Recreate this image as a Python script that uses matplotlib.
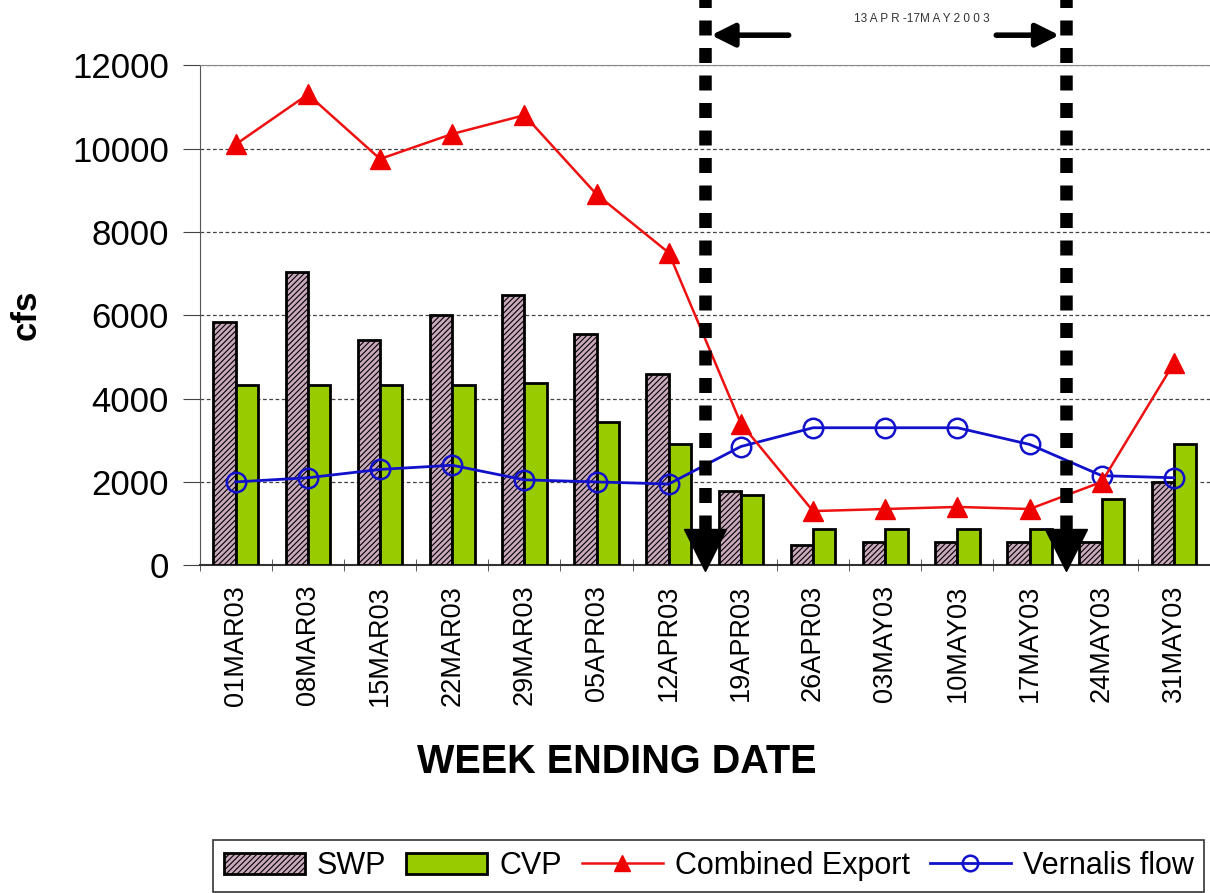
import numpy as np
import matplotlib
matplotlib.use("Agg")
import matplotlib.pyplot as plt
from matplotlib.transforms import blended_transform_factory

plt.rcParams['font.family'] = ['Liberation Sans', 'DejaVu Sans']
plt.rcParams['hatch.color'] = '#5a2a4a'
plt.rcParams['hatch.linewidth'] = 0.8

weeks = ["01MAR03", "08MAR03", "15MAR03", "22MAR03", "29MAR03", "05APR03", "12APR03",
         "19APR03", "26APR03", "03MAY03", "10MAY03", "17MAY03", "24MAY03", "31MAY03"]
swp = [5830, 7030, 5400, 6000, 6480, 5540, 4600, 1780, 480, 550, 550, 550, 550, 2000]
cvp = [4320, 4320, 4320, 4320, 4380, 3430, 2900, 1680, 880, 880, 880, 880, 1580, 2900]
combined = [10100, 11300, 9750, 10350, 10800, 8900, 7500, 3400, 1300, 1350, 1400, 1350, 2000, 4850]
vernalis = [2000, 2100, 2300, 2400, 2050, 2000, 1950, 2850, 3300, 3300, 3300, 2900, 2150, 2100]

# study window boundaries (between categories)
window = [6.5, 11.5]
window_label = "13 A P R -17M A Y 2 0 0 3"

fig = plt.figure(figsize=(12.1, 8.93), dpi=100)
ax = fig.add_axes([0.165, 0.367, 0.835, 0.56])

x = np.arange(len(weeks))
w = 0.31
b1 = ax.bar(x - w / 2, swp, w, color='#c9a9bb', edgecolor='black', linewidth=2,
            hatch='//////', label='SWP', zorder=3)
b2 = ax.bar(x + w / 2, cvp, w, color='#99cc00', edgecolor='black', linewidth=2,
            label='CVP', zorder=3)
l1, = ax.plot(x, combined, color='#ee1111', lw=1.8, marker='^', markersize=15,
              markerfacecolor='#ee0000', markeredgecolor='#ee0000',
              label='Combined Export', zorder=5)
l2, = ax.plot(x, vernalis, color='#1111cc', lw=2, marker='o', markersize=14,
              markerfacecolor='none', markeredgecolor='#1111cc', markeredgewidth=1.8,
              label='Vernalis flow', zorder=4)

ax.set_xlim(-0.5, len(weeks) - 0.5)
ax.set_ylim(0, 12000)
ax.set_yticks(range(0, 12001, 2000))
ax.yaxis.grid(True, linestyle=(0, (3, 2)), color='#444444', lw=0.9)
ax.set_axisbelow(True)
ax.set_xticks(x)
ax.set_xticklabels(weeks, rotation=90, fontsize=19.5)
ax.set_xticks(np.arange(-0.5, len(weeks)), minor=True)
ax.tick_params(axis='x', which='major', length=0, pad=14)
ax.tick_params(axis='x', which='minor', length=9, direction='inout', color='#444444')
ax.tick_params(axis='y', labelsize=25, length=12, color='#444444', pad=10)
ax.spines['right'].set_visible(False)
ax.spines['top'].set_color('#888888')
ax.spines['left'].set_color('#555555')
ax.spines['bottom'].set_color('#333333')
ax.spines['bottom'].set_linewidth(1.5)

ax.set_ylabel('cfs', fontsize=25, fontweight='bold')
ax.yaxis.set_label_coords(-0.155, 0.5)
ax.set_xlabel('WEEK ENDING DATE', fontsize=28.5, fontweight='bold')
ax.xaxis.set_label_coords(0.413, -0.355)

# study window markers
trans = blended_transform_factory(ax.transData, ax.transAxes)
for xb in window:
    ax.plot([xb, xb], [0.07, 1.14], transform=trans, color='black', lw=9,
            linestyle=(0, (1.2, 1)), solid_capstyle='butt', dash_capstyle='butt',
            clip_on=False, zorder=6)
    ax.plot([xb], [0.03], transform=trans, marker='v', markersize=30,
            color='black', clip_on=False, zorder=7)

ax.annotate('', xy=(window[0] + 0.05, 1.06), xytext=(window[0] + 1.2, 1.06),
            xycoords=trans, textcoords=trans,
            arrowprops=dict(arrowstyle='-|>,head_length=1.4,head_width=0.7',
                            color='black', lw=4))
ax.annotate('', xy=(window[1] - 0.05, 1.06), xytext=(window[1] - 1.0, 1.06),
            xycoords=trans, textcoords=trans,
            arrowprops=dict(arrowstyle='-|>,head_length=1.4,head_width=0.7',
                            color='black', lw=4))
ax.text(9.5, 1.092, window_label, transform=trans, fontsize=8.5,
        ha='center', va='center', color='#333333')

leg = fig.legend([b1, b2, l1, l2], ['SWP', 'CVP', 'Combined Export', 'Vernalis flow'],
                 loc='upper left', bbox_to_anchor=(0.176, 0.059), borderaxespad=0,
                 ncol=4, fontsize=22, frameon=True, fancybox=False,
                 handlelength=2.65, handletextpad=0.4, columnspacing=0.65,
                 borderpad=0.35, markerscale=0.8)
leg.get_frame().set_edgecolor('black')
leg.get_frame().set_linewidth(1.2)

fig.savefig('out.png', dpi=100)
